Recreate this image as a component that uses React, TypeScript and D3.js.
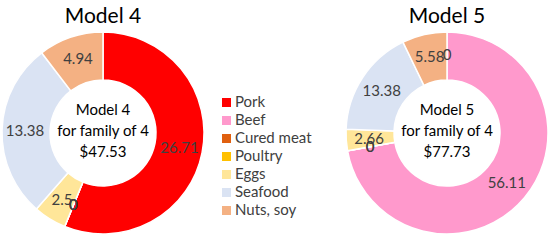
import { useEffect, useRef } from 'react';
import * as d3 from 'd3';

const categories = ['Pork', 'Beef', 'Cured meat', 'Poultry', 'Eggs', 'Seafood', 'Nuts, soy'];
const colors = ['#ff0000', '#ff99cc', '#e0600f', '#ffc000', '#ffe699', '#dae3f3', '#f4b183'];
const model4Values = [26.71, 0, 0, 0, 2.5, 13.38, 4.94];
const model5Values = [0, 56.11, 0, 0, 2.66, 13.38, 5.58];
const model4Center = ['Model 4', 'for family of 4', '$47.53'];
const model5Center = ['Model 5', 'for family of 4', '$77.73'];

const FONT = 'Lato, "Liberation Sans", sans-serif';

export default function App() {
  const ref = useRef<SVGSVGElement>(null);
  const width = 550;
  const height = 242;

  useEffect(() => {
    const svg = d3.select(ref.current);
    svg.selectAll('*').remove();

    const outer = 101;
    const inner = 53;

    const drawDonut = (cx: number, cy: number, title: string, values: number[], center: string[]) => {
      const g = svg.append('g').attr('transform', `translate(${cx}, ${cy})`);

      const pie = d3.pie<number>().sort(null).value((d) => d);
      const arcs = pie(values);
      const arc = d3.arc<d3.PieArcDatum<number>>().innerRadius(inner).outerRadius(outer);
      const labelArc = d3.arc<d3.PieArcDatum<number>>().innerRadius(inner + 1).outerRadius(outer + 1);

      g.selectAll('path')
        .data(arcs)
        .enter()
        .append('path')
        .attr('d', arc)
        .attr('fill', (d, i) => colors[i])
        .attr('stroke', '#fff')
        .attr('stroke-width', 1.5);

      g.selectAll('text.lbl')
        .data(arcs)
        .enter()
        .append('text')
        .attr('class', 'lbl')
        .attr('transform', (d) => `translate(${labelArc.centroid(d)})`)
        .attr('text-anchor', 'middle')
        .attr('dy', '0.35em')
        .attr('font-family', FONT)
        .attr('font-size', 15)
        .attr('fill', '#404040')
        .text((d) => String(d.data));

      g.selectAll('text.ctr')
        .data(center)
        .enter()
        .append('text')
        .attr('class', 'ctr')
        .attr('x', 0)
        .attr('y', (d, i) => -23 + i * 21)
        .attr('text-anchor', 'middle')
        .attr('dy', '0.35em')
        .attr('font-family', FONT)
        .attr('font-size', 15)
        .attr('fill', '#000')
        .text((d) => d);

      svg.append('text')
        .attr('x', cx)
        .attr('y', 16)
        .attr('text-anchor', 'middle')
        .attr('dy', '0.35em')
        .attr('font-family', FONT)
        .attr('font-size', 21)
        .attr('fill', '#000')
        .text(title);
    };

    drawDonut(103, 133, 'Model 4', model4Values, model4Center);
    drawDonut(447, 133, 'Model 5', model5Values, model5Center);

    const legendY = d3.scalePoint<string>()
      .domain(categories)
      .range([102, 210]);

    const legend = svg.append('g');
    legend.selectAll('rect')
      .data(categories)
      .enter()
      .append('rect')
      .attr('x', 222)
      .attr('y', (d) => (legendY(d) as number) - 4)
      .attr('width', 9)
      .attr('height', 9)
      .attr('fill', (d, i) => colors[i]);

    legend.selectAll('text')
      .data(categories)
      .enter()
      .append('text')
      .attr('x', 235)
      .attr('y', (d) => legendY(d) as number)
      .attr('dy', '0.35em')
      .attr('font-family', FONT)
      .attr('font-size', 15)
      .attr('fill', '#404040')
      .text((d) => d);
  }, []);

  return (
    <div style={{ position: 'absolute', left: 0, top: 0 }}>
      <svg width={width} height={height} ref={ref} style={{ display: 'block', background: '#fff' }} />
    </div>
  );
}
